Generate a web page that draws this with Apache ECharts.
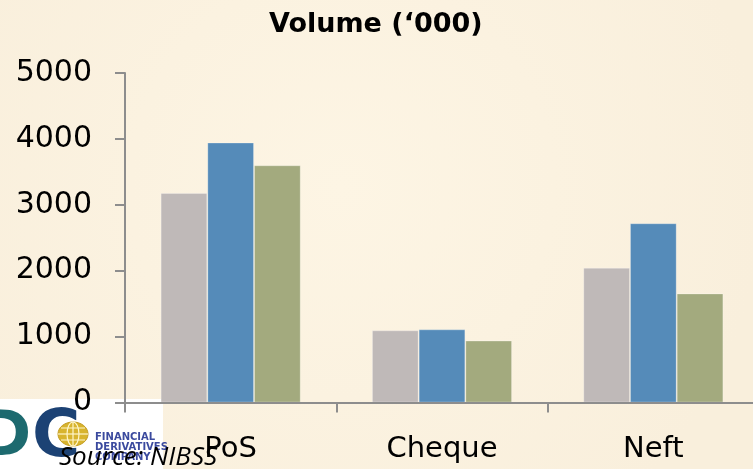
<!DOCTYPE html>
<html>
<head>
<meta charset="utf-8">
<style>
  html, body { margin: 0; padding: 0; background: #fbf3e2; overflow: hidden; }
  /* the plot runs slightly past the right edge of the visible window */
  #chart { width: 759px; height: 469px; }
</style>
<script src="https://cdn.jsdelivr.net/npm/echarts@6/dist/echarts.min.js"></script>
</head>
<body>
<div id="chart"></div>
<script>
// Payment channel volumes, in thousands of transactions
const categories = ['PoS', 'Cheque', 'Neft'];
const periodOne   = [3180, 1095, 2045];
const periodTwo   = [3945, 1110, 2720];
const periodThree = [3600, 940, 1655];
const yTicks = { min: 0, max: 5000, interval: 1000 };

const chart = echarts.init(document.getElementById('chart'), null, { renderer: 'canvas' });

const axisGray = '#8d8d8d';
const labelFont = '"DejaVu Sans", sans-serif';

function barSeries(name, data, color) {
  return {
    name: name,
    type: 'bar',
    data: data,
    barWidth: 46.7,
    barGap: '0%',
    itemStyle: { color: color, borderColor: 'rgba(255,255,255,0.25)', borderWidth: 1 }
  };
}

chart.setOption({
  backgroundColor: {
    type: 'radial', x: 0.45, y: 0.4, r: 0.9,
    colorStops: [
      { offset: 0, color: '#fdf5e4' },
      { offset: 1, color: '#f9efdc' }
    ]
  },
  animation: false,
  title: {
    text: 'Volume (\u2018000)',
    left: 264,
    top: 6,
    textStyle: { fontFamily: labelFont, fontWeight: 'bold', fontSize: 27, color: '#000' }
  },
  grid: { left: 125, right: 0, top: 73, bottom: 66.5, containLabel: false },
  xAxis: {
    type: 'category',
    data: categories,
    axisLine: { lineStyle: { color: axisGray, width: 2 } },
    axisTick: { show: true, length: 10, lineStyle: { color: axisGray, width: 2 } },
    axisLabel: { margin: 32, fontFamily: labelFont, fontSize: 29, color: '#000' },
    z: 5
  },
  yAxis: {
    type: 'value',
    min: yTicks.min,
    max: yTicks.max,
    interval: yTicks.interval,
    splitLine: { show: false },
    axisLine: { show: true, lineStyle: { color: axisGray, width: 2 } },
    axisTick: { show: true, length: 10, lineStyle: { color: axisGray, width: 2 } },
    axisLabel: {
      margin: 33, fontFamily: labelFont, fontSize: 30, color: '#000',
      formatter: function (v) { return String(v); }
    },
    z: 5
  },
  series: [
    barSeries('periodOne', periodOne, '#bfb9b8'),
    barSeries('periodTwo', periodTwo, '#558bb9'),
    barSeries('periodThree', periodThree, '#a3aa7e')
  ],
  graphic: {
    elements: [
      // company logo panel
      { type: 'rect', z: -10, shape: { x: 0, y: 399, width: 163, height: 70 }, style: { fill: '#ffffff' } },
      { type: 'text', z: 1, left: -21, top: 407, style: { text: 'D', font: 'bold 63px "DejaVu Sans"', fill: '#1d6a6f' } },
      { type: 'text', z: 1, left: 32, top: 406, style: { text: 'C', font: 'bold 66px "DejaVu Sans"', fill: '#1c4274' } },
      // globe emblem
      { type: 'ellipse', z: 2, shape: { cx: 73, cy: 434, rx: 17, ry: 14 }, style: { fill: '#ffffff' } },
      { type: 'ellipse', z: 3, shape: { cx: 73, cy: 434, rx: 15, ry: 12 }, style: { fill: '#d8b42e', stroke: '#c29a1e', lineWidth: 1 } },
      { type: 'ellipse', z: 4, shape: { cx: 73, cy: 434, rx: 6, ry: 12 }, style: { fill: 'none', stroke: '#fff6cc', lineWidth: 1.2 } },
      { type: 'line', z: 4, shape: { x1: 73, y1: 422, x2: 73, y2: 446 }, style: { stroke: '#fff6cc', lineWidth: 1.2 } },
      { type: 'line', z: 4, shape: { x1: 58, y1: 434, x2: 88, y2: 434 }, style: { stroke: '#fff6cc', lineWidth: 1.2 } },
      { type: 'line', z: 4, shape: { x1: 61, y1: 428, x2: 85, y2: 428 }, style: { stroke: '#fff6cc', lineWidth: 1 } },
      { type: 'line', z: 4, shape: { x1: 61, y1: 440, x2: 85, y2: 440 }, style: { stroke: '#fff6cc', lineWidth: 1 } },
      { type: 'text', z: 4, left: 95, top: 432, style: { text: 'FINANCIAL', font: 'bold 10px "DejaVu Sans"', fill: '#3b4a9e' } },
      { type: 'text', z: 4, left: 95, top: 442, style: { text: 'DERIVATIVES', font: 'bold 10px "DejaVu Sans"', fill: '#3b4a9e' } },
      { type: 'text', z: 4, left: 95, top: 452, style: { text: 'COMPANY', font: 'bold 10px "DejaVu Sans"', fill: '#3b4a9e' } },
      // data source note
      { type: 'text', z: 20, left: 59, top: 445, style: { text: 'Source: NIBSS', font: 'italic 26px "Open Sans"', fill: '#000' } }
    ]
  }
});
</script>
</body>
</html>
